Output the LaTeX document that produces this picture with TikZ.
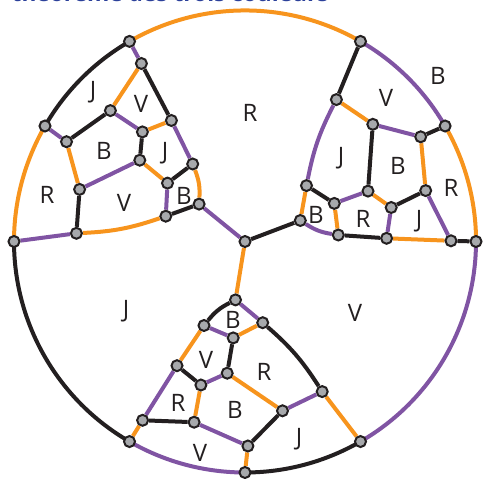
\documentclass[tikz,border=0pt]{standalone}
\usepackage{fontspec}
\newfontfamily\labelfont{Open Sans}
\usepackage{tikz}
\usepackage{xcolor}
\definecolor{edgeorange}{RGB}{247,148,29}
\definecolor{edgepurple}{RGB}{128,84,163}
\definecolor{edgeblack}{RGB}{35,31,32}
\definecolor{dotgray}{RGB}{167,169,172}
\definecolor{titleblue}{RGB}{43,64,154}
\pgfdeclarelayer{bg}
\pgfsetlayers{bg,main}

\begin{document}
\begin{tikzpicture}[x=0.75pt,y=0.75pt,
    dot/.style={shape=circle,draw=edgeblack,fill=dotgray,line width=1.5pt,minimum size=8.25pt,inner sep=0pt},
    org/.style={draw=edgeorange,line width=3pt},
    pur/.style={draw=edgepurple,line width=3pt},
    blk/.style={draw=edgeblack,line width=3pt},
    face/.style={font=\labelfont\fontsize{18}{18}\selectfont,text=edgeblack,inner sep=0pt}]
    \useasboundingbox (0,0) rectangle (483,479);

    \node[anchor=base west,text=titleblue,font=\labelfont\bfseries\fontsize{17}{17}\selectfont] (title) at (7,477.5) {théorème des trois couleurs};

    % center
    \node[dot] (o) at (245,237.5) {};

    % left cluster
    \node[dot] (l1) at (129.5,437.6) {};
    \node[dot] (l2) at (141.4,415.5) {};
    \node[dot] (l3) at (45.0,353.0) {};
    \node[dot] (l4) at (110.4,368.4) {};
    \node[dot] (l5) at (171.4,358.5) {};
    \node[dot] (l6) at (66.5,337.3) {};
    \node[dot] (l7) at (142.4,347.1) {};
    \node[dot] (l8) at (139.8,318.8) {};
    \node[dot] (l9) at (192.7,315.0) {};
    \node[dot] (l10) at (79.6,289.6) {};
    \node[dot] (l11) at (167.5,295.9) {};
    \node[dot] (l12) at (199.1,274.9) {};
    \node[dot] (l13) at (165.8,262.8) {};
    \node[dot] (l14) at (76.4,245.7) {};
    \node[dot] (l15) at (14.0,237.5) {};

    % right cluster
    \node[dot] (r1) at (476.0,237.5) {};
    \node[dot] (r2) at (451.0,238.2) {};
    \node[dot] (r3) at (445.1,353.0) {};
    \node[dot] (r4) at (425.7,288.4) {};
    \node[dot] (r5) at (386.6,240.7) {};
    \node[dot] (r6) at (420.7,342.2) {};
    \node[dot] (r7) at (391.2,271.5) {};
    \node[dot] (r8) at (368.0,287.9) {};
    \node[dot] (r9) at (338.3,244.0) {};
    \node[dot] (r10) at (372.8,354.7) {};
    \node[dot] (r11) at (334.3,275.6) {};
    \node[dot] (r12) at (300.3,258.5) {};
    \node[dot] (r13) at (306.5,293.4) {};
    \node[dot] (r14) at (336.4,379.4) {};
    \node[dot] (r15) at (360.5,437.6) {};

    % bottom cluster
    \node[dot] (b1) at (129.5,37.45) {};
    \node[dot] (b2) at (142.6,58.7) {};
    \node[dot] (b3) at (245.0,6.5) {};
    \node[dot] (b4) at (194.1,56.8) {};
    \node[dot] (b5) at (177.0,113.3) {};
    \node[dot] (b6) at (247.9,33.0) {};
    \node[dot] (b7) at (200.9,94.0) {};
    \node[dot] (b8) at (227.2,105.8) {};
    \node[dot] (b9) at (204.0,153.5) {};
    \node[dot] (b10) at (282.5,68.2) {};
    \node[dot] (b11) at (233.2,141.1) {};
    \node[dot] (b12) at (235.5,179.1) {};
    \node[dot] (b13) at (262.7,156.3) {};
    \node[dot] (b14) at (322.2,87.4) {};
    \node[dot] (b15) at (360.5,37.45) {};

    \begin{pgfonlayer}{bg}
    % outer circle
    \draw [org] (l15.center) arc[start angle=180,end angle=150,radius=231];
    \draw [blk] (l3.center) arc[start angle=150,end angle=120,radius=231];
    \draw [org] (l1.center) arc[start angle=120,end angle=60,radius=231];
    \draw [pur] (r15.center) arc[start angle=60,end angle=30,radius=231];
    \draw [org] (r3.center) arc[start angle=30,end angle=0,radius=231];
    \draw [pur] (r1.center) arc[start angle=0,end angle=-60,radius=231];
    \draw [blk] (b15.center) arc[start angle=-60,end angle=-90,radius=231];
    \draw [pur] (b3.center) arc[start angle=-90,end angle=-120,radius=231];
    \draw [blk] (b1.center) arc[start angle=-120,end angle=-180,radius=231];

    % left
    \path [pur] (l1) edge (l2);
    \path [blk] (l2) edge (l5);
    \path [org] (l2) edge (l4);
    \path [pur] (l3) edge (l6);
    \path [blk] (l6) edge (l4);
    \path [pur] (l4) edge (l7);
    \path [org] (l7) edge (l5);
    \path [blk] (l7) edge (l8);
    \path [org] (l6) edge (l10);
    \path [pur] (l8) edge (l10);
    \path [org] (l8) edge (l11);
    \path [blk] (l11) edge (l9);
    \path [pur] (l5) edge (l9);
    \path [org] (l9) edge[bend left=12] (l12);
    \path [pur] (l11) edge (l13);
    \path [blk] (l13) edge (l12);
    \path [blk] (l10) edge (l14);
    \path [org] (l14) edge[bend right=8] (l13);
    \path [pur] (l15) edge (l14);
    \path [pur] (l12) edge (o);

    % right
    \path [blk] (r1) edge (r2);
    \path [org] (r2) edge (r5);
    \path [pur] (r2) edge (r4);
    \path [blk] (r3) edge (r6);
    \path [org] (r6) edge (r4);
    \path [blk] (r4) edge (r7);
    \path [pur] (r7) edge (r5);
    \path [org] (r7) edge (r8);
    \path [pur] (r6) edge (r10);
    \path [blk] (r8) edge (r10);
    \path [pur] (r8) edge (r11);
    \path [org] (r11) edge (r9);
    \path [blk] (r5) edge (r9);
    \path [pur] (r9) edge[bend left=12] (r12);
    \path [blk] (r11) edge (r13);
    \path [org] (r13) edge (r12);
    \path [org] (r10) edge (r14);
    \path [pur] (r14) edge[bend right=8] (r13);
    \path [blk] (r15) edge (r14);
    \path [blk] (r12) edge (o);

    % bottom
    \path [org] (b1) edge (b2);
    \path [pur] (b2) edge (b5);
    \path [blk] (b2) edge (b4);
    \path [org] (b3) edge (b6);
    \path [pur] (b6) edge (b4);
    \path [org] (b4) edge (b7);
    \path [blk] (b7) edge (b5);
    \path [pur] (b7) edge (b8);
    \path [blk] (b6) edge (b10);
    \path [org] (b8) edge (b10);
    \path [blk] (b8) edge (b11);
    \path [pur] (b11) edge (b9);
    \path [org] (b5) edge (b9);
    \path [blk] (b9) edge[bend left=12] (b12);
    \path [org] (b11) edge (b13);
    \path [pur] (b13) edge (b12);
    \path [pur] (b10) edge (b14);
    \path [blk] (b14) edge[bend right=8] (b13);
    \path [org] (b15) edge (b14);
    \path [org] (b12) edge (o);
    \end{pgfonlayer}

    % face colours
    \node[face] (f1) at (93,387) {J};
    \node[face] (f2) at (141,375) {V};
    \node[face] (f3) at (104,328) {B};
    \node[face] (f4) at (165,326) {J};
    \node[face] (f5) at (47,284) {R};
    \node[face] (f6) at (124,276) {V};
    \node[face] (f7) at (184,283) {B};
    \node[face] (f8) at (250,366) {R};
    \node[face] (f9) at (438,403) {B};
    \node[face] (f10) at (386,381) {V};
    \node[face] (f11) at (341,321) {J};
    \node[face] (f12) at (398,313) {B};
    \node[face] (f13) at (451,291) {R};
    \node[face] (f14) at (316,264) {B};
    \node[face] (f15) at (363,260) {R};
    \node[face] (f16) at (419,258) {J};
    \node[face] (f17) at (126,168) {J};
    \node[face] (f18) at (355,166) {V};
    \node[face] (f19) at (233,159) {B};
    \node[face] (f20) at (206,119) {V};
    \node[face] (f21) at (264,107) {R};
    \node[face] (f22) at (178,76) {R};
    \node[face] (f23) at (235,69) {B};
    \node[face] (f24) at (299,40) {J};
    \node[face] (f25) at (200,26) {V};
\end{tikzpicture}
\end{document}
